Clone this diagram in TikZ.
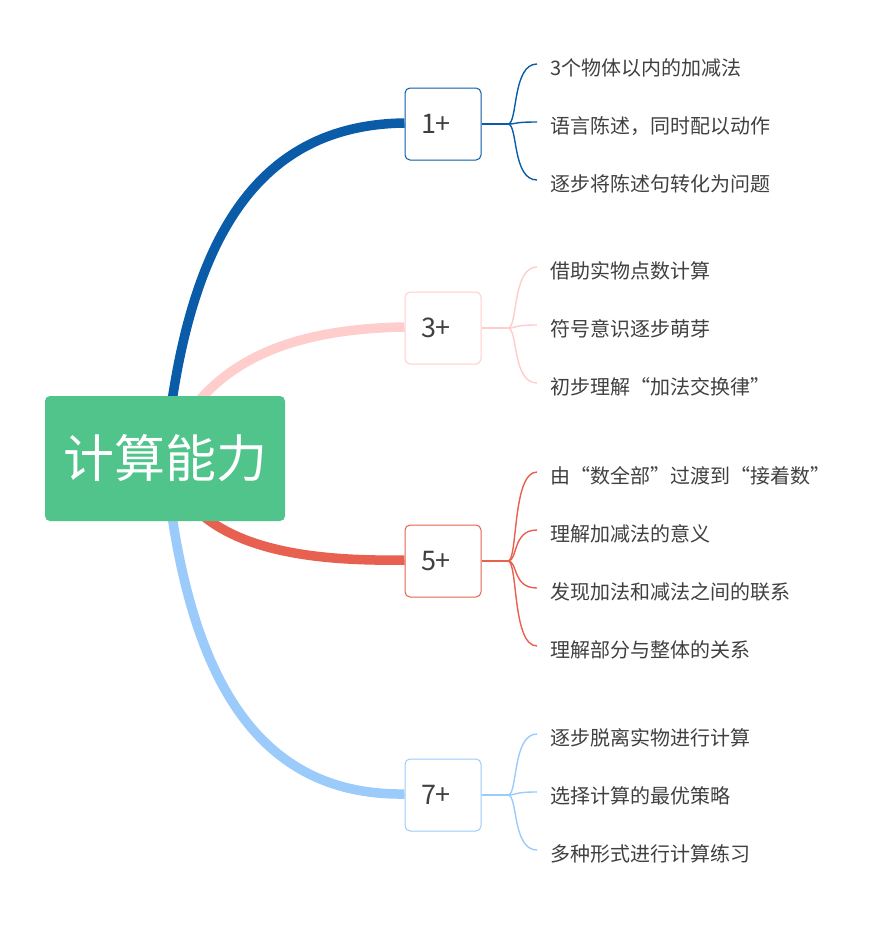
\documentclass[tikz,border=0pt]{standalone}
\usepackage{fontspec}
\setmainfont{Noto Sans CJK SC}
\usetikzlibrary{calc}
\definecolor{cgreen}{HTML}{50C48B}
\definecolor{cblue}{HTML}{0A5CA8}
\definecolor{cpink}{HTML}{FFCDCB}
\definecolor{cred}{HTML}{E8604F}
\definecolor{clight}{HTML}{9BCBFB}
\definecolor{ctext}{HTML}{404040}
\pgfdeclarelayer{bg}
\pgfsetlayers{bg,main}
\newcommand{\numtxt}[1]{\makebox[44pt][l]{#1}}
\begin{document}
\begin{tikzpicture}[x=1pt,y=-1pt,
  rootbox/.style={fill=cgreen, rounded corners=5pt, minimum width=240pt, minimum height=125pt, text=white, font=\fontsize{51}{51}\selectfont, inner sep=0pt},
  numbox/.style={fill=white, rounded corners=5pt, minimum width=76pt, minimum height=72pt, line width=1pt, text=ctext, font=\fontsize{27}{27}\selectfont, inner sep=0pt},
  leaf/.style={anchor=west, inner sep=0pt, text=ctext, font=\fontsize{20}{20}\selectfont},
  mainline/.style={line width=9.5pt},
  subline/.style={line width=1.4pt}
]
\useasboundingbox (0,0) rectangle (894,926);
\node[rootbox] (root) at (165,458.5) {\raisebox{-3pt}{计算能力}};

\node[numbox, draw=cblue] (n1) at (443,124) {\numtxt{1+}};
\node[numbox, draw=cpink] (n3) at (443,328) {\numtxt{3+}};
\node[numbox, draw=cred] (n5) at (443,561) {\numtxt{5+}};
\node[numbox, draw=clight] (n7) at (443,795) {\numtxt{7+}};

\begin{pgfonlayer}{bg}
\draw[mainline, cblue] (root.center) .. controls (185,250) and (250,125) .. ([yshift=1pt]n1.west);
\draw[mainline, cpink] (root.center) .. controls (205,355) and (300,329) .. ([yshift=1pt]n3.west);
\draw[mainline, cred] (root.center) .. controls (190,540) and (280,562) .. ([yshift=1pt]n5.west);
\draw[mainline, clight] (root.center) .. controls (185,666) and (250,796) .. ([yshift=1pt]n7.west);
\end{pgfonlayer}

% leaves 1+
\node[leaf] (a1) at (550,68) {3个物体以内的加减法};
\node[leaf] (a2) at (550,126) {语言陈述，同时配以动作};
\node[leaf] (a3) at (550,184) {逐步将陈述句转化为问题};
% leaves 3+
\node[leaf] (b1) at (550,271) {借助实物点数计算};
\node[leaf] (b2) at (550,329) {符号意识逐步萌芽};
\node[leaf] (b3) at (550,387) {初步理解“加法交换律”};
% leaves 5+
\node[leaf] (c1) at (550,476) {由“数全部”过渡到“接着数”};
\node[leaf] (c2) at (550,534) {理解加减法的意义};
\node[leaf] (c3) at (550,592) {发现加法和减法之间的联系};
\node[leaf] (c4) at (550,650) {理解部分与整体的关系};
% leaves 7+
\node[leaf] (d1) at (550,738) {逐步脱离实物进行计算};
\node[leaf] (d2) at (550,796) {选择计算的最优策略};
\node[leaf] (d3) at (550,854) {多种形式进行计算练习};

\coordinate (j1) at (508,124);
\coordinate (j3) at (508,328);
\coordinate (j5) at (508,561);
\coordinate (j7) at (508,795);

\draw[subline, cblue] (n1.east) -- (j1);
\draw[subline, cpink] (n3.east) -- (j3);
\draw[subline, cred] (n5.east) -- (j5);
\draw[subline, clight] (n7.east) -- (j7);

\foreach \j/\l/\c in {j1/a1/cblue, j1/a2/cblue, j1/a3/cblue, j3/b1/cpink, j3/b2/cpink, j3/b3/cpink, j5/c1/cred, j5/c2/cred, j5/c3/cred, j5/c4/cred, j7/d1/clight, j7/d2/clight, j7/d3/clight}{
  \draw[subline, \c] (\j) .. controls ($(\j)+(10,0)$) and ($(\l.west)+(-38,-4)$) .. ($(\l.west)+(-13,-4)$);
}
\end{tikzpicture}
\end{document}
